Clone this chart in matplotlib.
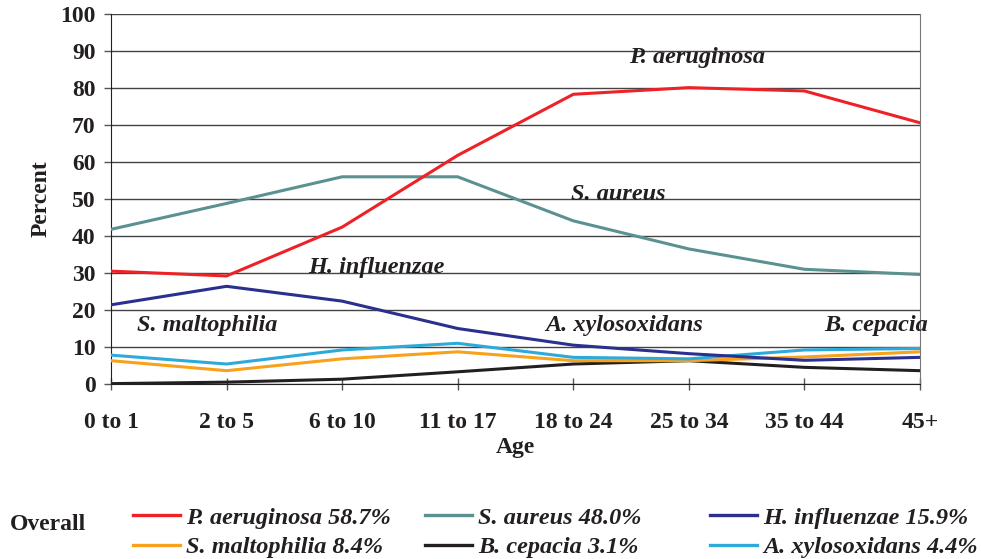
import matplotlib
matplotlib.use('Agg')
import matplotlib.pyplot as plt
from matplotlib.lines import Line2D

plt.rcParams['font.family'] = ['Liberation Serif', 'DejaVu Serif']

# age groups on the x axis
ages = ['0 to 1', '2 to 5', '6 to 10', '11 to 17', '18 to 24', '25 to 34', '35 to 44', '45+']

# percent of patients per age group
p_aeruginosa = [30.5, 29.2, 42.4, 61.8, 78.3, 80.1, 79.2, 70.6]
s_aureus = [41.8, 48.8, 56.0, 56.0, 44.1, 36.5, 31.0, 29.6]
h_influenzae = [21.4, 26.4, 22.4, 15.0, 10.5, 8.2, 6.4, 7.2]
s_maltophilia = [6.3, 3.6, 6.8, 8.7, 6.3, 6.3, 7.3, 8.7]
b_cepacia = [0.1, 0.5, 1.3, 3.3, 5.4, 6.3, 4.5, 3.6]
a_xylosoxidans = [7.8, 5.4, 9.2, 11.0, 7.2, 6.8, 9.2, 9.6]

names = ['P. aeruginosa', 'S. aureus', 'H. influenzae',
         'S. maltophilia', 'B. cepacia', 'A. xylosoxidans']
overall = ['58.7%', '48.0%', '15.9%', '8.4%', '3.1%', '4.4%']
colors = ['#ee2127', '#5b9190', '#2b2f8e', '#f9a11b', '#231f20', '#2eaad9']

# where the in-plot names sit (x index, percent), same order as names
label_pos = [(5.07, 88.2), (4.39, 51.2), (2.30, 31.4),
             (0.83, 15.8), (6.62, 15.8), (4.44, 15.8)]

series = [p_aeruginosa, s_aureus, h_influenzae, s_maltophilia, b_cepacia, a_xylosoxidans]

fig = plt.figure(figsize=(9.81, 5.59), dpi=100)
ax = fig.add_axes([111 / 981, 1 - 384 / 559, (920 - 111) / 981, (384 - 14) / 559])

x = list(range(len(ages)))
# draw order: light ones first so the main lines stay on top
for i in [4, 3, 5, 2, 1, 0]:
    ax.plot(x, series[i], color=colors[i], lw=2.2, solid_joinstyle='miter', zorder=3)
handles = [Line2D([], [], color=c, lw=2.4) for c in colors]

for (tx, ty), name in zip(label_pos, names):
    ax.text(tx, ty, name, ha='center', va='center', fontsize=17.5,
            fontweight='bold', style='italic', color='#231f20', zorder=4)

ax.set_xlim(0, len(ages) - 1)
ax.set_ylim(0, 100)
ax.set_xticks(x)
ax.set_xticklabels(ages, fontsize=17, fontweight='bold', color='#231f20')
ax.set_yticks(range(0, 101, 10))
ax.set_yticklabels([str(v) for v in range(0, 101, 10)], fontsize=17,
                   fontweight='bold', color='#231f20')
ax.tick_params(axis='x', direction='inout', length=8, width=1, pad=16, color='#555555')
ax.tick_params(axis='y', direction='out', length=5, width=1, pad=6, color='#555555')
ax.grid(axis='y', color='#444444', lw=1.0, zorder=1)
ax.set_axisbelow(True)
ax.spines['top'].set_visible(False)
ax.spines['left'].set_color('#231f20')
ax.spines['right'].set_color('#777777')
ax.spines['bottom'].set_color('#231f20')
ax.set_ylabel('Percent', fontsize=17, fontweight='bold', labelpad=6, color='#231f20')
ax.set_xlabel('Age', fontsize=17, fontweight='bold', labelpad=3, color='#231f20')

# overall legend at the bottom, three columns of two
fig.text(10 / 981, 1 - 524 / 559, 'Overall', fontsize=17, fontweight='bold',
         va='center', ha='left', color='#231f20')
col_x = [128 / 981, 420 / 981, 705 / 981]
for c in range(3):
    idx = [c, c + 3]
    leg = fig.legend([handles[k] for k in idx],
                     [names[k] + ' ' + overall[k] for k in idx],
                     loc='upper left', bbox_to_anchor=(col_x[c], 1 - 502 / 559),
                     frameon=False, handlelength=1.95, handletextpad=0.25,
                     labelspacing=0.3, borderaxespad=0, borderpad=0.2,
                     prop={'size': 17.5, 'weight': 'bold', 'style': 'italic'})
    for t in leg.get_texts():
        t.set_color('#231f20')

fig.savefig('out.png', dpi=100)
